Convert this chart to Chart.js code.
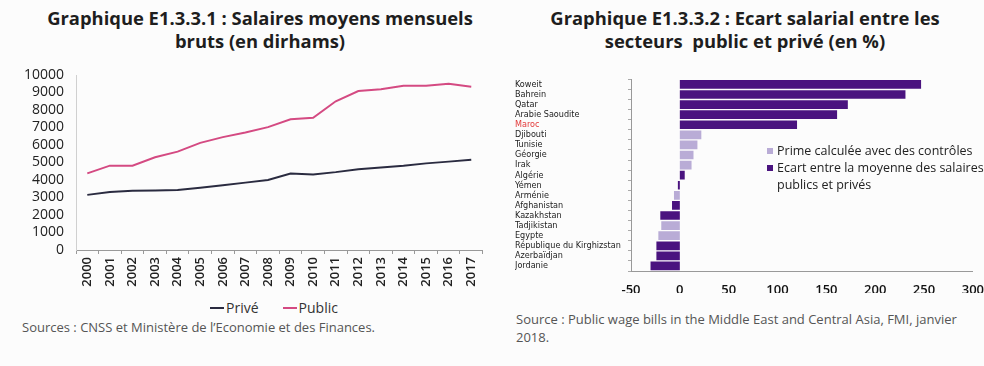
<!doctype html>
<html lang="fr">
<head>
<meta charset="utf-8">
<title>Salaires public / privé</title>
<script src="https://cdn.jsdelivr.net/npm/chart.js"></script>
<style>
  body { margin: 0; background: #fcfcfc; font-family: "Open Sans", sans-serif; color: #222; }
  .page { position: relative; width: 984px; height: 366px; overflow: hidden; }
  .title { position: absolute; top: 6px; text-align: center; font-weight: 700; font-size: 18.4px; line-height: 23px; color: #1e1e1e; white-space: nowrap; }
  .source { position: absolute; font-size: 13px; line-height: 18px; color: #555; white-space: nowrap; }
  .box { position: absolute; }
  .legend1 { position: absolute; left: 0; width: 548px; top: 299px; text-align: center; font-size: 14px; line-height: 18px; color: #333; }
  .legend1 .it { display: inline-block; margin: 0 12px; }
  .legend1 .ln { display: inline-block; width: 14px; height: 2px; margin-right: 2px; vertical-align: 4px; }
  .legend2 { position: absolute; left: 767px; top: 142px; font-size: 12.5px; line-height: 17px; color: #222; white-space: nowrap; }
  .legend2 span.sq { display: inline-block; width: 6px; height: 6px; margin-right: 4px; vertical-align: 1px; }
</style>
</head>
<body>
<div class="page">
  <div class="title" style="left:20px; width:480px;">Graphique E1.3.3.1 : Salaires moyens mensuels<br>bruts (en dirhams)</div>
  <div class="title" style="left:505px; width:480px;">Graphique E1.3.3.2 : Ecart salarial entre les<br>secteurs&nbsp; public et privé (en %)</div>

  <div class="box" style="left:20px; top:62px; width:470px; height:230px;">
    <canvas id="salaires"></canvas>
  </div>
  <div class="box" style="left:510px; top:72px; width:477px; height:221px;">
    <canvas id="ecart"></canvas>
  </div>

  <div class="legend1"><span class="it"><span class="ln" style="background:#2a2b40"></span>Privé</span><span class="it"><span class="ln" style="background:#d44a82"></span>Public</span></div>

  <div class="legend2">
    <div><span class="sq" style="background:#b9acd6"></span>Prime calculée avec des contrôles</div>
    <div><span class="sq" style="background:#4a137f"></span>Ecart entre la moyenne des salaires</div>
    <div style="padding-left:10px">publics et privés</div>
  </div>

  <div class="source" style="left:22px; top:318px;">Sources : CNSS et Ministère de l’Economie et des Finances.</div>
  <div class="source" style="left:516px; top:310px;">Source : Public wage bills in the Middle East and Central Asia, FMI, janvier<br>2018.</div>
</div>

<script>
// Graphique 1 : salaires moyens mensuels bruts (dirhams)
const annees = ['2000','2001','2002','2003','2004','2005','2006','2007','2008','2009',
                '2010','2011','2012','2013','2014','2015','2016','2017'];
const prive  = [3150, 3320, 3380, 3400, 3430, 3560, 3700, 3850, 4000, 4370,
                4320, 4450, 4610, 4710, 4810, 4950, 5050, 5160];
const public_ = [4380, 4820, 4820, 5300, 5620, 6120, 6450, 6720, 7020, 7470,
                 7560, 8500, 9080, 9180, 9380, 9390, 9500, 9330];
const yTicks = [0, 1000, 2000, 3000, 4000, 5000, 6000, 7000, 8000, 9000, 10000];

// Graphique 2 : écart salarial public / privé (%)
const pays = ['Koweit','Bahrein','Qatar','Arabie Saoudite','Maroc','Djibouti','Tunisie',
              'Géorgie','Irak','Algérie','Yémen','Arménie','Afghanistan','Kazakhstan',
              'Tadjikistan','Egypte','République du Kirghizstan','Azerbaïdjan','Jordanie'];
const prime = [null, null, null, null, null, 22, 18, 14, 12, null, null, -6, null, null,
               -19, -22, null, null, null];
const ecartMoy = [247, 231, 172, 161, 120, null, null, null, null, 5, -2, null, -8, -20,
                  null, null, -24, -24, -30];
const xTicks = [-50, 0, 50, 100, 150, 200, 250, 300];

const txt = '#222';

new Chart(document.getElementById('salaires'), {
  type: 'line',
  data: {
    labels: annees,
    datasets: [
      { label: 'Privé', data: prive, borderColor: '#2a2b40', backgroundColor: '#2a2b40',
        borderWidth: 2, pointRadius: 0, tension: 0 },
      { label: 'Public', data: public_, borderColor: '#d44a82', backgroundColor: '#d44a82',
        borderWidth: 2, pointRadius: 0, tension: 0 }
    ]
  },
  options: {
    responsive: true,
    maintainAspectRatio: false,
    animation: false,
    layout: { padding: { top: 13, right: 5, left: 0, bottom: 0 } },
    plugins: { tooltip: { enabled: false }, legend: { display: false } },
    scales: {
      x: {
        offset: true,
        grid: { display: true, drawOnChartArea: false, offset: true, tickLength: 4, color: '#999' },
        border: { display: true, color: '#999' },
        ticks: {
          color: txt, font: { family: 'Open Sans', size: 13, weight: '600' },
          minRotation: 90, maxRotation: 90, padding: 3, autoSkip: false
        },
        afterFit(s) { s.height = 42; }
      },
      y: {
        min: 0, max: 10000,
        afterBuildTicks(s) { s.ticks = yTicks.map(v => ({ value: v })); },
        grid: { display: false },
        border: { display: true, color: '#d0d0d0' },
        ticks: {
          color: txt, font: { family: 'Open Sans', size: 14 }, padding: 4, autoSkip: false,
          callback: v => String(v)
        },
        afterFit(s) { s.width = 56; }
      }
    }
  }
});

new Chart(document.getElementById('ecart'), {
  type: 'bar',
  data: {
    labels: pays,
    datasets: [
      { label: 'Prime calculée avec des contrôles', data: prime, backgroundColor: '#b9acd6',
        grouped: false, barPercentage: 0.86, categoryPercentage: 1 },
      { label: 'Ecart entre la moyenne des salaires publics et privés', data: ecartMoy,
        backgroundColor: '#4a137f', grouped: false, barPercentage: 0.86, categoryPercentage: 1 }
    ]
  },
  options: {
    indexAxis: 'y',
    responsive: true,
    maintainAspectRatio: false,
    animation: false,
    layout: { padding: { top: 0, right: 12, left: 5, bottom: 0 } },
    plugins: { legend: { display: false }, tooltip: { enabled: false } },
    scales: {
      x: {
        min: -50, max: 300,
        afterBuildTicks(s) { s.ticks = xTicks.map(v => ({ value: v })); },
        grid: { display: false },
        border: { display: true, color: '#999' },
        ticks: { color: '#111', font: { family: 'Open Sans', size: 13, weight: '600' }, padding: 3 },
        afterFit(s) { s.height = 22; }
      },
      y: {
        grid: { display: true, drawOnChartArea: false, tickLength: 3, color: '#aaa' },
        border: { display: true, color: '#999' },
        ticks: {
          crossAlign: 'far', autoSkip: false, padding: 2,
          color: c => (pays[c.index] === 'Maroc' ? '#e23a3a' : '#222'),
          font: { family: "'Liberation Sans Narrow', 'DejaVu Sans Condensed', sans-serif", size: 9 }
        },
        afterFit(s) { s.width = 116; }
      }
    }
  }
});
</script>
</body>
</html>
